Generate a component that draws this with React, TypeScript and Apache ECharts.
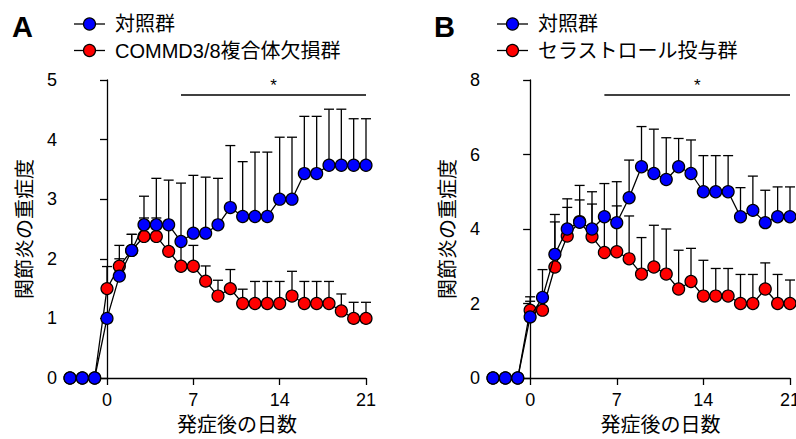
import React, { useEffect, useRef } from "react";
import * as echarts from "echarts";

const days = [-3, -2, -1, 0, 1, 2, 3, 4, 5, 6, 7, 8, 9, 10, 11, 12, 13, 14, 15, 16, 17, 18, 19, 20, 21];
const xTicks = [0, 7, 14, 21];

const blueA = [0, 0, 0, 1.0, 1.71, 2.14, 2.57, 2.57, 2.57, 2.29, 2.43, 2.43, 2.57, 2.86, 2.71, 2.71, 2.71, 3.0, 3.0, 3.43, 3.43, 3.57, 3.57, 3.57, 3.57];
const blueAErr = [0, 0, 0, 0, 0.29, 0.27, 0.48, 0.78, 0.75, 0.98, 0.97, 0.94, 0.78, 1.04, 0.92, 1.08, 1.08, 1.04, 1.04, 0.96, 0.96, 0.94, 0.94, 0.78, 0.78];
const redA = [0, 0, 0, 1.5, 1.875, 2.14, 2.375, 2.375, 2.125, 1.875, 1.875, 1.625, 1.375, 1.5, 1.25, 1.25, 1.25, 1.25, 1.375, 1.25, 1.25, 1.25, 1.125, 1.0, 1.0];
const redAErr = [0, 0, 0, 0.37, 0.35, 0.27, 0.31, 0.31, 0.4, 0.35, 0.35, 0.255, 0.265, 0.32, 0.24, 0.37, 0.37, 0.37, 0.415, 0.37, 0.37, 0.37, 0.285, 0.27, 0.27];

const blueB = [0, 0, 0, 1.64, 2.16, 3.32, 4.0, 4.18, 4.0, 4.33, 4.17, 4.84, 5.67, 5.49, 5.33, 5.67, 5.49, 5.0, 5.0, 5.0, 4.33, 4.5, 4.17, 4.33, 4.33];
const blueBErr = [0, 0, 0, 0.42, 0.75, 1.07, 0.81, 0.99, 1.0, 0.89, 1.1, 1.01, 1.08, 1.19, 1.12, 0.76, 0.9, 0.97, 0.97, 0.97, 0.78, 0.92, 0.87, 0.8, 0.8];
const redB = [0, 0, 0, 1.82, 1.82, 2.98, 3.81, 4.2, 3.79, 3.37, 3.39, 3.2, 2.79, 2.98, 2.79, 2.39, 2.59, 2.2, 2.2, 2.2, 2.0, 2.0, 2.39, 2.0, 2.0];
const redBErr = [0, 0, 0, 0.36, 0.3, 1.21, 0.77, 0.58, 0.88, 0.9, 1.23, 1.15, 0.98, 1.12, 1.21, 1.04, 0.89, 0.96, 0.74, 0.74, 0.78, 0.78, 0.7, 0.78, 0.63];

// significance bar: [from day, to day, y value]
const sigA = [6, 21, 4.75];
const sigB = [6, 21, 7.6];

const controlName = "対照群";
const koName = "COMMD3/8複合体欠損群";
const celName = "セラストロール投与群";
const xName = "発症後の日数";
const yName = "関節炎の重症度";

const FONT = "'Liberation Sans', Arial, 'Noto Sans CJK JP', sans-serif";
const BLUE = "#0000ff";
const RED = "#ff0000";

function errSeries(vals: number[], errs: number[], idx: number) {
  return {
    type: "custom",
    xAxisIndex: idx,
    yAxisIndex: idx,
    z: 1,
    silent: true,
    data: days.map((d, i) => [d, vals[i], errs[i]]),
    renderItem: (params: any, api: any) => {
      const x = api.value(0);
      const m = api.value(1);
      const e = api.value(2);
      if (!e) return { type: "group", children: [] };
      const p0 = api.coord([x, m]);
      const p1 = api.coord([x, m + e]);
      const st = { stroke: "#000", lineWidth: 1.3 };
      return {
        type: "group",
        children: [
          { type: "line", shape: { x1: p0[0], y1: p0[1], x2: p1[0], y2: p1[1] }, style: st },
          { type: "line", shape: { x1: p1[0] - 5, y1: p1[1], x2: p1[0] + 5, y2: p1[1] }, style: st },
        ],
      };
    },
  };
}

function lineSeries(name: string, vals: number[], color: string, idx: number, z: number) {
  return {
    type: "line",
    name,
    xAxisIndex: idx,
    yAxisIndex: idx,
    z,
    silent: true,
    data: days.map((d, i) => [d, vals[i]]),
    symbol: "circle",
    symbolSize: 12,
    showAllSymbol: true,
    itemStyle: { color, borderColor: "#000", borderWidth: 1.2 },
    lineStyle: { color: "#000", width: 1.3 },
    emphasis: { disabled: true },
  };
}

function sigSeries(sig: number[], idx: number) {
  return {
    type: "custom",
    xAxisIndex: idx,
    yAxisIndex: idx,
    z: 4,
    silent: true,
    data: [sig],
    renderItem: (params: any, api: any) => {
      const a = api.coord([api.value(0), api.value(2)]);
      const b = api.coord([api.value(1), api.value(2)]);
      return {
        type: "group",
        children: [
          { type: "line", shape: { x1: a[0], y1: a[1], x2: b[0], y2: b[1] }, style: { stroke: "#000", lineWidth: 1.5 } },
          {
            type: "text",
            x: (a[0] + b[0]) / 2,
            y: a[1] - 1,
            style: { text: "*", fontSize: 17, fontFamily: FONT, fill: "#000", align: "center", verticalAlign: "bottom" },
          },
        ],
      };
    },
  };
}

function xAxis(idx: number) {
  return {
    type: "value",
    gridIndex: idx,
    min: -3,
    max: 21,
    name: xName,
    nameLocation: "middle",
    nameGap: 37,
    nameTextStyle: { fontSize: 20, fontFamily: FONT, color: "#000", padding: [0, 0, 0, 38] },
    axisLine: { show: true, onZero: false, lineStyle: { color: "#000", width: 1.3 } },
    axisTick: { show: true, length: 7, customValues: xTicks, lineStyle: { color: "#000", width: 1.3 } },
    axisLabel: { customValues: xTicks, fontSize: 18, fontFamily: FONT, color: "#000", margin: 13 },
    splitLine: { show: false },
  };
}

function yAxis(idx: number, max: number, interval: number) {
  return {
    type: "value",
    gridIndex: idx,
    min: 0,
    max,
    interval,
    name: yName,
    nameLocation: "middle",
    nameRotate: 90,
    nameGap: 35,
    nameTextStyle: { fontSize: 20, fontFamily: FONT, color: "#000" },
    axisLine: { show: true, lineStyle: { color: "#000", width: 1.3 } },
    axisTick: { show: true, length: 7, lineStyle: { color: "#000", width: 1.3 } },
    axisLabel: { fontSize: 18, fontFamily: FONT, color: "#000", margin: 13 },
    splitLine: { show: false },
  };
}

function legendItems(x0: number, rows: { name: string; color: string; y: number }[]) {
  const out: any[] = [];
  rows.forEach((r) => {
    out.push({ type: "line", shape: { x1: x0, y1: r.y, x2: x0 + 31, y2: r.y }, style: { stroke: "#000", lineWidth: 1.3 } });
    out.push({ type: "circle", shape: { cx: x0 + 15.5, cy: r.y, r: 6 }, style: { fill: r.color, stroke: "#000", lineWidth: 1.2 } });
    out.push({
      type: "text",
      x: x0 + 41,
      y: r.y,
      style: { text: r.name, fontSize: 20, fontFamily: FONT, fill: "#000", verticalAlign: "middle" },
    });
  });
  return out;
}

export default function App() {
  const ref = useRef<HTMLDivElement>(null);
  useEffect(() => {
    if (!ref.current) return;
    const chart = echarts.init(ref.current, undefined, { renderer: "svg" });
    chart.setOption({
      animation: false,
      grid: [
        { left: 70, top: 80, width: 296, height: 298, outerBoundsMode: "none", containLabel: false },
        { left: 493, top: 80, width: 297, height: 298, outerBoundsMode: "none", containLabel: false },
      ],
      xAxis: [xAxis(0), xAxis(1)],
      yAxis: [yAxis(0, 5, 1), yAxis(1, 8, 2)],
      series: [
        errSeries(redA, redAErr, 0),
        errSeries(blueA, blueAErr, 0),
        lineSeries(koName, redA, RED, 0, 2),
        lineSeries(controlName, blueA, BLUE, 0, 3),
        sigSeries(sigA, 0),
        errSeries(redB, redBErr, 1),
        errSeries(blueB, blueBErr, 1),
        lineSeries(celName, redB, RED, 1, 2),
        lineSeries(controlName, blueB, BLUE, 1, 3),
        sigSeries(sigB, 1),
      ],
      graphic: [
        { type: "text", x: 12, y: 27, style: { text: "A", fontSize: 29, fontWeight: "bold", fontFamily: FONT, fill: "#000", verticalAlign: "middle" } },
        { type: "text", x: 434, y: 27, style: { text: "B", fontSize: 29, fontWeight: "bold", fontFamily: FONT, fill: "#000", verticalAlign: "middle" } },
        ...legendItems(74, [
          { name: controlName, color: BLUE, y: 24 },
          { name: koName, color: RED, y: 50.5 },
        ]),
        ...legendItems(497, [
          { name: controlName, color: BLUE, y: 24 },
          { name: celName, color: RED, y: 50.5 },
        ]),
      ],
    });
    return () => chart.dispose();
  }, []);
  return (
    <div
      ref={ref}
      style={{ position: "fixed", left: 0, top: 0, width: 796, height: 439, background: "#fff" }}
    />
  );
}
